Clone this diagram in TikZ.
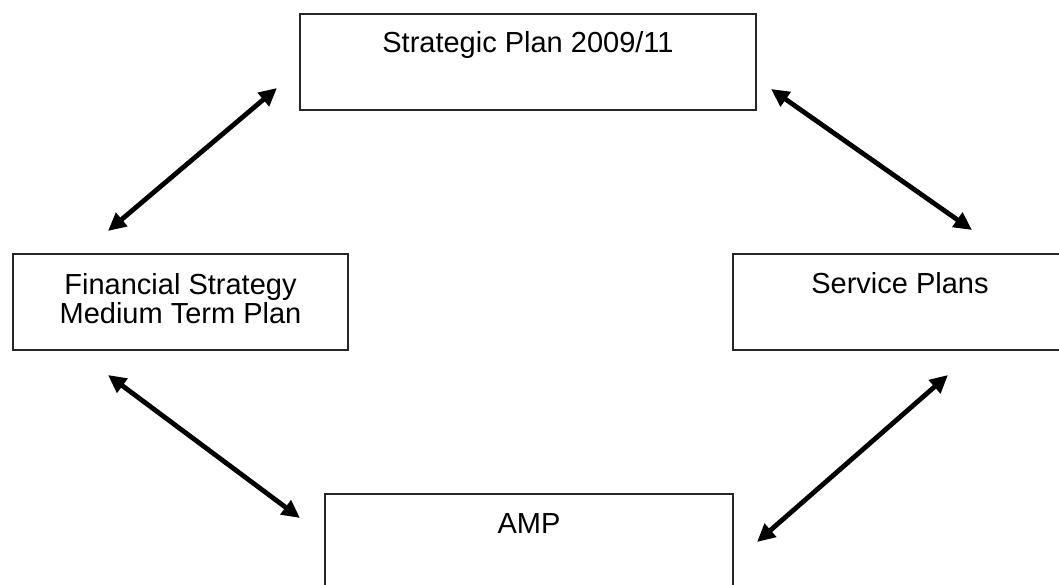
\documentclass[tikz,border=0pt]{standalone}
\usepackage{fontspec}
\setmainfont{Liberation Sans}
\usetikzlibrary{arrows.meta}
\begin{document}
\begin{tikzpicture}[x=1pt,y=-1pt,
  box/.style={draw=black!85,line width=1.5pt,rectangle,inner sep=0pt},
  lbl/.style={font=\fontsize{29}{29}\selectfont,anchor=base,inner sep=0pt},
  dblarrow/.style={line width=4.8pt,{Triangle[length=18pt,width=17pt]}-{Triangle[length=18pt,width=17pt]}}]
\useasboundingbox (0,0) rectangle (1059,585);
% boxes
\node[box,minimum width=456pt,minimum height=96pt] (sp) at (528,62) {};
\node[box,minimum width=335pt,minimum height=96pt] (fs) at (180.5,302) {};
\node[box,minimum width=334pt,minimum height=96pt] (sv) at (900,302) {};
\node[box,minimum width=408pt,minimum height=96pt] (amp) at (529,542) {};
% labels
\node[lbl] (spt) at (528,53) {Strategic Plan 2009/11};
\node[lbl] (fst1) at (180.5,294) {Financial Strategy};
\node[lbl] (fst2) at (180.5,323) {Medium Term Plan};
\node[lbl] (svt) at (900,293) {Service Plans};
\node[lbl] (ampt) at (529,533) {AMP};
% arrow ends
\coordinate (a1s) at (277,88);
\coordinate (a1e) at (108,231);
\coordinate (a2s) at (771,89);
\coordinate (a2e) at (972,230);
\coordinate (a3s) at (108,375);
\coordinate (a3e) at (300,518);
\coordinate (a4s) at (948,375);
\coordinate (a4e) at (757,542);
\draw[dblarrow] (a1s) -- (a1e);
\draw[dblarrow] (a2s) -- (a2e);
\draw[dblarrow] (a3s) -- (a3e);
\draw[dblarrow] (a4s) -- (a4e);
\end{tikzpicture}
\end{document}
